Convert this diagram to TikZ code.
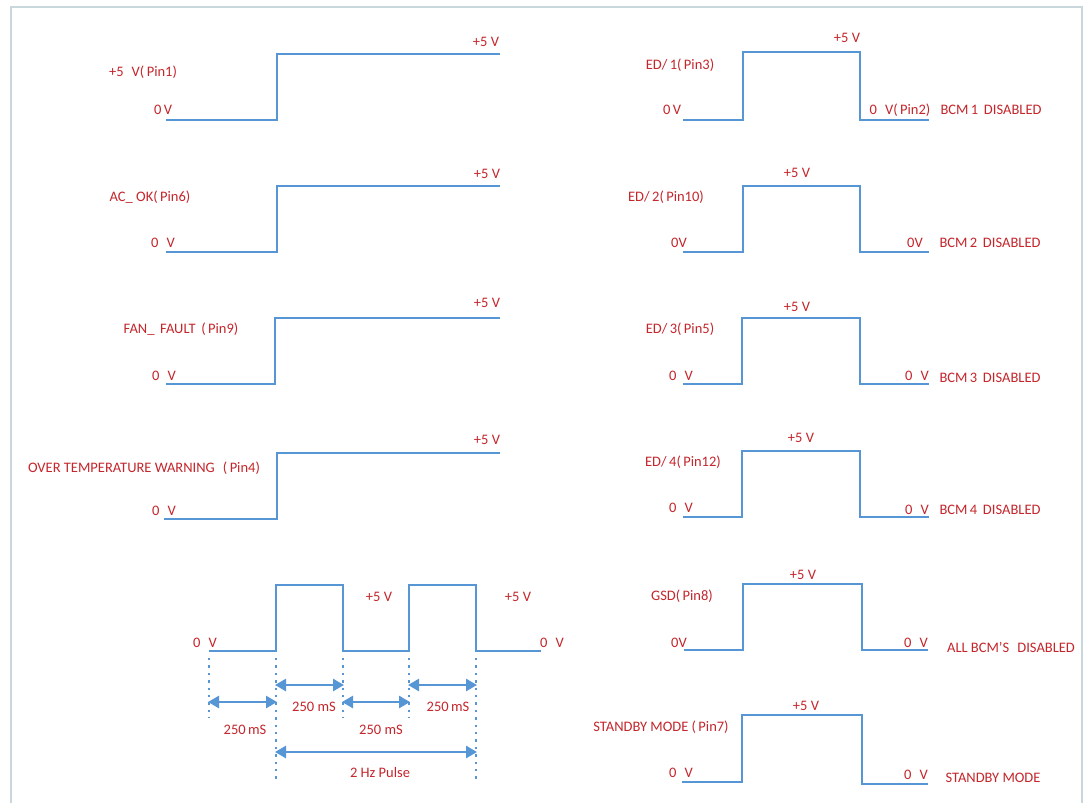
\documentclass[tikz,border=0pt]{standalone}
\usepackage{fontspec}
\setmainfont{Carlito}
\usetikzlibrary{arrows.meta}
\definecolor{sigred}{RGB}{196,38,44}
\definecolor{sigblue}{RGB}{86,150,212}
\definecolor{framegray}{RGB}{201,214,220}
\tikzset{
  wave/.style={draw=sigblue, line width=2.6pt, line join=miter},
  lbl/.style={text=sigred, font=\fontsize{14.5}{17}\selectfont, inner sep=0pt},
  dotline/.style={draw=sigblue, line width=2.4pt, dash pattern=on 2.4pt off 5pt},
  dimarrow/.style={draw=sigblue, line width=2.6pt, {Triangle[length=11pt,width=12pt]}-{Triangle[length=11pt,width=12pt]}, shorten <=-1pt, shorten >=-1pt},
}
\begin{document}
\begin{tikzpicture}[x=1pt,y=-1pt]
\useasboundingbox (0,0) rectangle (1086,803);
\fill[white] (0,0) rectangle (1086,803);
% frame
\draw[framegray, line width=2.5pt] (11,803) -- (11,7) -- (1082,7) -- (1082,803);

% ---------- left column ----------
\draw[wave] (166,120) -- (277,120) -- (277,54) -- (500,54);
\node[lbl] (l1name) at (143,72) {+5\,\, V(\,Pin1)};
\node[lbl] (l1lo) at (163,110) {0\,V};
\node[lbl] (l1hi) at (486,42) {+5 V};

\draw[wave] (166,252) -- (277,252) -- (277,186) -- (500,186);
\node[lbl] (l2name) at (150,197) {AC\_ OK(\,Pin6)};
\node[lbl] (l2lo) at (163,243) {0\,\, V};
\node[lbl] (l2hi) at (487,174) {+5 V};

\draw[wave] (166,384) -- (275,384) -- (275,318) -- (500,318);
\node[lbl] (l3name) at (181,329) {FAN\_\, FAULT \,(\,Pin9)};
\node[lbl] (l3lo) at (164,376) {0\,\, V};
\node[lbl] (l3hi) at (487,303) {+5 V};

\draw[wave] (164,519) -- (277,519) -- (277,453) -- (500,453);
\node[lbl] (l4name) at (144,468) {OVER TEMPERATURE WARNING \,\,(\,Pin4)};
\node[lbl] (l4lo) at (164,511) {0\,\, V};
\node[lbl] (l4hi) at (487,440) {+5 V};

% pulse
\draw[wave] (209,651) -- (276,651) -- (276,585) -- (343,585) -- (343,651)
  -- (409,651) -- (409,585) -- (476,585) -- (476,651) -- (541,651);
\node[lbl] (p0a) at (205,643) {0\,\, V};
\node[lbl] (p0b) at (552,643) {0\,\, V};
\node[lbl] (p5a) at (379,597) {+5 V};
\node[lbl] (p5b) at (518,597) {+5 V};

\coordinate (d1t) at (209,658); \coordinate (d1b) at (209,718);
\coordinate (d2t) at (276,658); \coordinate (d2b) at (276,783);
\coordinate (d3t) at (343,658); \coordinate (d3b) at (343,718);
\coordinate (d4t) at (409,658); \coordinate (d4b) at (409,718);
\coordinate (d5t) at (476,658); \coordinate (d5b) at (476,783);
\foreach \i in {1,...,5} { \draw[dotline] (d\i t) -- (d\i b); }

\coordinate (a1l) at (209,702); \coordinate (a1r) at (276,702);
\coordinate (a2l) at (276,685); \coordinate (a2r) at (343,685);
\coordinate (a3l) at (343,702); \coordinate (a3r) at (409,702);
\coordinate (a4l) at (409,685); \coordinate (a4r) at (476,685);
\coordinate (a5l) at (276,752); \coordinate (a5r) at (476,752);
\foreach \i in {1,...,5} { \draw[dimarrow] (a\i l) -- (a\i r); }

\node[lbl] (t1) at (245,730) {250\,mS};
\node[lbl] (t2) at (314,707) {250 mS};
\node[lbl] (t3) at (381,730) {250 mS};
\node[lbl] (t4) at (448,707) {250\,mS};
\node[lbl] (t5) at (380,773) {2 Hz Pulse};

% ---------- right column ----------
\draw[wave] (683,120) -- (743,120) -- (743,52) -- (860,52) -- (860,120) -- (929,120);
\node[lbl] (r1name) at (680,65) {ED/\,1(\,Pin3)};
\node[lbl] (r1lo) at (672,110) {0\,V};
\node[lbl] (r1hi) at (847,38) {+5 V};
\node[lbl] (r1end) at (900,110) {0\,\, V(\,Pin2)};
\node[lbl] (r1txt) at (991,110) {BCM\,1\, DISABLED};

\draw[wave] (683,252) -- (743,252) -- (743,186) -- (860,186) -- (860,252) -- (929,252);
\node[lbl] (r2name) at (666,197) {ED/\,2(\,Pin10)};
\node[lbl] (r2lo) at (679,243) {0V};
\node[lbl] (r2hi) at (797,173) {+5 V};
\node[lbl] (r2end) at (915,243) {0V};
\node[lbl] (r2txt) at (990,243) {BCM\,2\, DISABLED};

\draw[wave] (683,384) -- (742,384) -- (742,318) -- (860,318) -- (860,384) -- (929,384);
\node[lbl] (r3name) at (680,329) {ED/\,3(\,Pin5)};
\node[lbl] (r3lo) at (681,376) {0\,\, V};
\node[lbl] (r3hi) at (797,307) {+5 V};
\node[lbl] (r3end) at (917,376) {0\,\, V};
\node[lbl] (r3txt) at (990,378) {BCM\,3\, DISABLED};

\draw[wave] (683,517) -- (742,517) -- (742,451) -- (860,451) -- (860,517) -- (929,517);
\node[lbl] (r4name) at (683,462) {ED/\,4(\,Pin12)};
\node[lbl] (r4lo) at (681,508) {0\,\, V};
\node[lbl] (r4hi) at (801,438) {+5 V};
\node[lbl] (r4end) at (917,510) {0\,\, V};
\node[lbl] (r4txt) at (990,510) {BCM\,4\, DISABLED};

\draw[wave] (684,650) -- (743,650) -- (743,584) -- (862,584) -- (862,650) -- (928,650);
\node[lbl] (r5name) at (682,596) {GSD(\,Pin8)};
\node[lbl] (r5lo) at (679,643) {0V};
\node[lbl] (r5hi) at (803,575) {+5 V};
\node[lbl] (r5end) at (916,643) {0\,\, V};
\node[lbl] (r5txt) at (1011,647) {ALL BCM'S\,\, DISABLED};

\draw[wave] (682,782) -- (742,782) -- (742,715) -- (862,715) -- (862,784) -- (928,784);
\node[lbl] (r6name) at (661,727) {STANDBY MODE (\,Pin7)};
\node[lbl] (r6lo) at (681,773) {0\,\, V};
\node[lbl] (r6hi) at (806,706) {+5 V};
\node[lbl] (r6end) at (916,775) {0\,\, V};
\node[lbl] (r6txt) at (993,778) {STANDBY MODE};
\end{tikzpicture}
\end{document}
